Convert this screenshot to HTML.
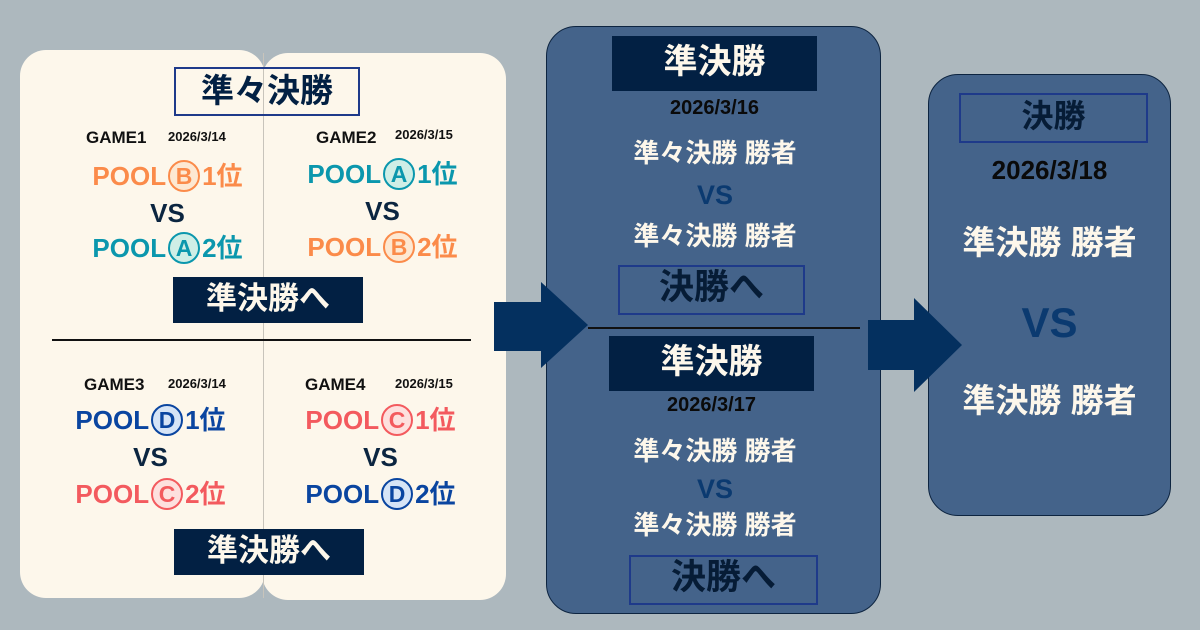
<!DOCTYPE html>
<html><head><meta charset="utf-8"><style>
body{margin:0;width:1200px;height:630px;background:#adb8be;position:relative;overflow:hidden;font-family:"Liberation Sans","Noto Sans CJK JP",sans-serif;font-weight:bold}
.a{position:absolute}
.t{position:absolute;text-align:center;white-space:nowrap;line-height:1}
.c{display:inline-block;border:2px solid;border-radius:50%;width:28px;height:28px;line-height:28px;text-align:center;font-size:23px;vertical-align:middle;margin:0 2px;position:relative;top:-2px}
.or{color:#fb8b4a}.or .c{border-color:#fb8b4a;background:#fde8d2}
.te{color:#0b97ad}.te .c{border-color:#0b97ad;background:#cfeee6}
.bl{color:#0a45a0}.bl .c{border-color:#0a45a0;background:#d6e4f6}
.rd{color:#f35a5e}.rd .c{border-color:#f35a5e;background:#fde0de}
</style></head><body>
<div class="a" style="left:20px;top:50px;width:245px;height:548px;background:#fdf7eb;border-radius:26px"></div>
<div class="a" style="left:262px;top:53px;width:244px;height:547px;background:#fdf7eb;border-radius:26px"></div>
<div class="a" style="left:263px;top:53px;width:1px;height:545px;background:#c8c4bb"></div>
<div class="a" style="left:52px;top:339px;width:419px;height:2px;background:#111"></div>

<div class="a" style="left:174px;top:67px;width:186px;height:49px;border:2px solid #1e3a8a;box-sizing:border-box"></div>
<div class="t" style="left:174px;top:74px;width:186px;font-size:33px;color:#022043">準々決勝</div>

<div class="t" style="left:86px;top:129px;font-size:17px;color:#111">GAME1</div>
<div class="t" style="left:168px;top:130px;font-size:13px;color:#111">2026/3/14</div>
<div class="t" style="left:316px;top:129px;font-size:17px;color:#111">GAME2</div>
<div class="t" style="left:395px;top:128px;font-size:13px;color:#111">2026/3/15</div>

<div class="t or" style="left:60px;top:162px;width:215px;font-size:26px">POOL<span class="c">B</span>1位</div>
<div class="t" style="left:60px;top:200px;width:215px;font-size:26px;color:#0b2540">VS</div>
<div class="t te" style="left:60px;top:234px;width:215px;font-size:26px">POOL<span class="c">A</span>2位</div>
<div class="t te" style="left:275px;top:160px;width:215px;font-size:26px">POOL<span class="c">A</span>1位</div>
<div class="t" style="left:275px;top:198px;width:215px;font-size:26px;color:#0b2540">VS</div>
<div class="t or" style="left:275px;top:233px;width:215px;font-size:26px">POOL<span class="c">B</span>2位</div>

<div class="a" style="left:173px;top:277px;width:190px;height:46px;background:#022043"></div>
<div class="t" style="left:173px;top:283px;width:190px;font-size:31px;color:#fdf7eb">準決勝へ</div>

<div class="t" style="left:84px;top:376px;font-size:17px;color:#111">GAME3</div>
<div class="t" style="left:168px;top:377px;font-size:13px;color:#111">2026/3/14</div>
<div class="t" style="left:305px;top:376px;font-size:17px;color:#111">GAME4</div>
<div class="t" style="left:395px;top:377px;font-size:13px;color:#111">2026/3/15</div>

<div class="t bl" style="left:43px;top:406px;width:215px;font-size:26px">POOL<span class="c">D</span>1位</div>
<div class="t" style="left:43px;top:444px;width:215px;font-size:26px;color:#0b2540">VS</div>
<div class="t rd" style="left:43px;top:480px;width:215px;font-size:26px">POOL<span class="c">C</span>2位</div>
<div class="t rd" style="left:273px;top:406px;width:215px;font-size:26px">POOL<span class="c">C</span>1位</div>
<div class="t" style="left:273px;top:444px;width:215px;font-size:26px;color:#0b2540">VS</div>
<div class="t bl" style="left:273px;top:480px;width:215px;font-size:26px">POOL<span class="c">D</span>2位</div>

<div class="a" style="left:174px;top:529px;width:190px;height:46px;background:#022043"></div>
<div class="t" style="left:174px;top:535px;width:190px;font-size:31px;color:#fdf7eb">準決勝へ</div>

<div class="a" style="left:546px;top:26px;width:335px;height:588px;background:#44638a;border:1px solid #0d2440;border-radius:30px;box-sizing:border-box"></div>
<div class="a" style="left:612px;top:36px;width:205px;height:55px;background:#022043"></div>
<div class="t" style="left:612px;top:45px;width:205px;font-size:34px;color:#fdf7eb">準決勝</div>
<div class="t" style="left:612px;top:98px;width:205px;font-size:20px;color:#0a0a0a">2026/3/16</div>
<div class="t" style="left:580px;top:140px;width:270px;font-size:26px;color:#fdf7eb">準々決勝 勝者</div>
<div class="t" style="left:580px;top:182px;width:270px;font-size:27px;color:#0b3a70">VS</div>
<div class="t" style="left:580px;top:223px;width:270px;font-size:26px;color:#fdf7eb">準々決勝 勝者</div>
<div class="a" style="left:618px;top:265px;width:187px;height:50px;border:2px solid #1e3a8a;box-sizing:border-box"></div>
<div class="t" style="left:618px;top:270px;width:187px;font-size:35px;color:#061c36">決勝へ</div>
<div class="a" style="left:588px;top:327px;width:272px;height:2px;background:#111"></div>
<div class="a" style="left:609px;top:336px;width:205px;height:55px;background:#022043"></div>
<div class="t" style="left:609px;top:345px;width:205px;font-size:34px;color:#fdf7eb">準決勝</div>
<div class="t" style="left:609px;top:395px;width:205px;font-size:20px;color:#0a0a0a">2026/3/17</div>
<div class="t" style="left:580px;top:438px;width:270px;font-size:26px;color:#fdf7eb">準々決勝 勝者</div>
<div class="t" style="left:580px;top:476px;width:270px;font-size:27px;color:#0b3a70">VS</div>
<div class="t" style="left:580px;top:512px;width:270px;font-size:26px;color:#fdf7eb">準々決勝 勝者</div>
<div class="a" style="left:629px;top:555px;width:189px;height:50px;border:2px solid #1e3a8a;box-sizing:border-box"></div>
<div class="t" style="left:629px;top:560px;width:189px;font-size:35px;color:#061c36">決勝へ</div>

<div class="a" style="left:928px;top:74px;width:243px;height:442px;background:#44638a;border:1px solid #0d2440;border-radius:30px;box-sizing:border-box"></div>
<div class="a" style="left:959px;top:93px;width:189px;height:50px;border:2px solid #1e3a8a;box-sizing:border-box"></div>
<div class="t" style="left:959px;top:100px;width:189px;font-size:32px;color:#061c36">決勝</div>
<div class="t" style="left:928px;top:157px;width:243px;font-size:26px;color:#0a0a0a">2026/3/18</div>
<div class="t" style="left:918px;top:226px;width:263px;font-size:33px;color:#fdf7eb">準決勝 勝者</div>
<div class="t" style="left:928px;top:302px;width:243px;font-size:42px;color:#0b3a70">VS</div>
<div class="t" style="left:918px;top:384px;width:263px;font-size:33px;color:#fdf7eb">準決勝 勝者</div>

<svg class="a" style="left:0;top:0" width="1200" height="630">
<polygon points="494,302 541,302 541,282 588,325 541,368 541,351 494,351" fill="#04305f"/>
<polygon points="868,320 914,320 914,298 962,345 914,392 914,370 868,370" fill="#04305f"/>
</svg>
</body></html>
